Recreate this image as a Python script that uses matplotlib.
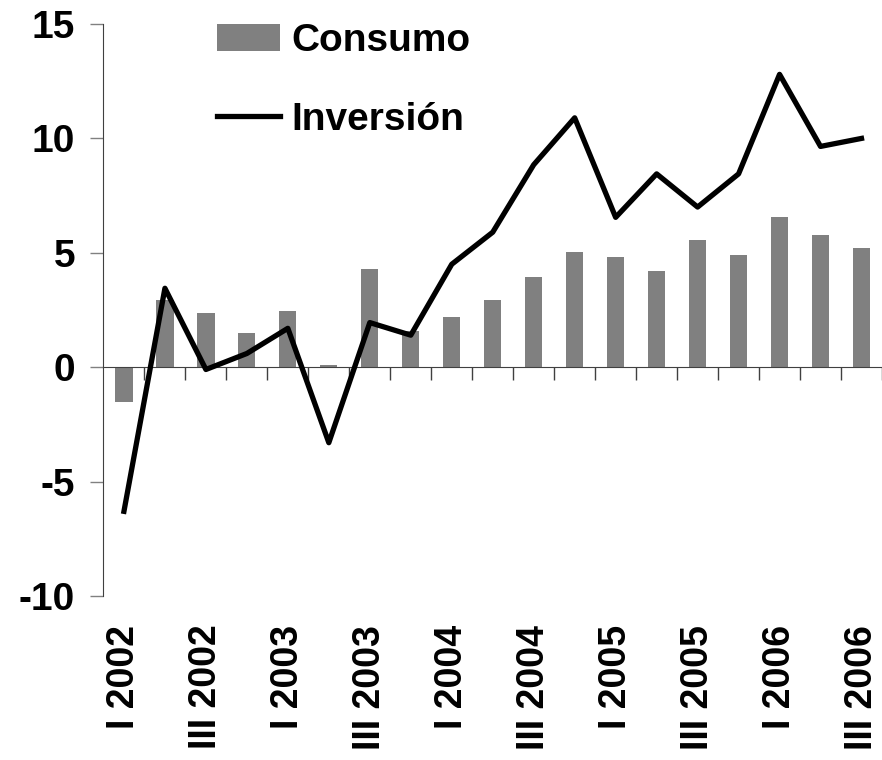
import numpy as np
import matplotlib
matplotlib.use("Agg")
import matplotlib.pyplot as plt
import matplotlib.transforms as mtransforms

plt.rcParams['font.family'] = ['Liberation Sans', 'DejaVu Sans']
plt.rcParams['font.weight'] = 'bold'
plt.rcParams['axes.unicode_minus'] = False

# trimestres I 2002 .. III 2006
trimestres = ['I 2002', 'II 2002', 'III 2002', 'IV 2002',
              'I 2003', 'II 2003', 'III 2003', 'IV 2003',
              'I 2004', 'II 2004', 'III 2004', 'IV 2004',
              'I 2005', 'II 2005', 'III 2005', 'IV 2005',
              'I 2006', 'II 2006', 'III 2006']
consumo = [-1.5, 2.95, 2.35, 1.5, 2.45, 0.1, 4.3, 1.6, 2.2, 2.95,
           3.95, 5.05, 4.8, 4.2, 5.55, 4.9, 6.55, 5.8, 5.2]
inversion = [-6.3, 3.45, -0.1, 0.6, 1.7, -3.3, 1.95, 1.4, 4.5, 5.9,
             8.85, 10.9, 6.55, 8.45, 7.0, 8.45, 12.8, 9.65, 10.0]
etiquetas = trimestres[::2]

x = np.arange(len(trimestres))

fig = plt.figure(figsize=(8.82, 7.6), dpi=100)
ax = fig.add_axes([0.1173, 0.2158, 0.8827, 0.7526])

barras = ax.bar(x, consumo, width=0.42, color='#808080', label='Consumo',
                zorder=2)
linea, = ax.plot(x, inversion, color='black', linewidth=3.8,
                 label='Inversión', zorder=3)

ax.set_xlim(-0.5, len(trimestres) - 0.5)
ax.set_ylim(-10, 15)
ax.set_yticks([-10, -5, 0, 5, 10, 15])
ax.tick_params(axis='y', length=9.4, width=1, color='#808080', pad=11,
               labelsize=28)
for lab in ax.get_yticklabels():
    lab.set_fontweight('bold')

ax.spines['top'].set_visible(False)
ax.spines['right'].set_visible(False)
ax.spines['left'].set_color('#404040')
ax.spines['bottom'].set_position(('data', 0))
ax.spines['bottom'].set_color('#404040')
ax.set_xticks(np.arange(len(trimestres)) + 0.5)
ax.tick_params(axis='x', length=9.4, width=1, color='#404040',
               labelbottom=False)

trans = mtransforms.blended_transform_factory(ax.transData, fig.transFigure)
for i, lab in zip(x[::2], etiquetas):
    ax.text(i, 0.178, lab, transform=trans, rotation=90, ha='center',
            va='top', fontsize=27, fontweight='bold', clip_on=False)

leg = ax.legend([barras, linea], ['Consumo', 'Inversión'],
                loc='upper left', bbox_to_anchor=(0.246, 0.97),
                bbox_transform=fig.transFigure, frameon=False,
                prop={'size': 28, 'weight': 'bold'}, borderpad=0,
                handlelength=1.62, handleheight=0.7, handletextpad=0.3,
                labelspacing=1.1, borderaxespad=0)

fig.savefig('out.png', dpi=100)
